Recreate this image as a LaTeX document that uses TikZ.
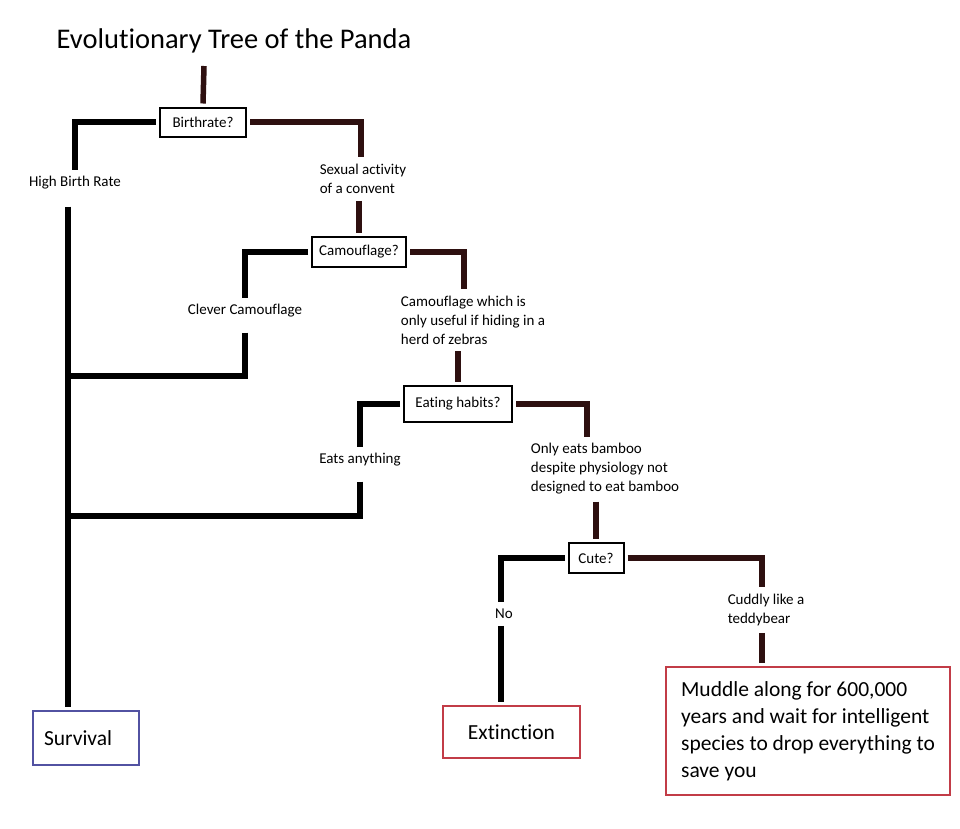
\documentclass[tikz,border=0pt]{standalone}
\usepackage{fontspec}
\setmainfont{Carlito}[Ligatures=CommonOff]
\definecolor{stemred}{HTML}{2E1010}
\definecolor{survblue}{HTML}{5252A2}
\definecolor{endred}{HTML}{C23C47}
\tikzset{
  lbranch/.style={line width=5.5pt,black},
  rbranch/.style={line width=5.5pt,stemred},
  qbox/.style={draw,line width=2pt,inner xsep=6pt,minimum height=29pt,outer sep=4pt,font=\fontsize{15}{18}\selectfont},
  lab/.style={inner sep=5pt,outer sep=2pt,font=\fontsize{15}{19}\selectfont},
  endbox/.style={draw,line width=2.5pt,outer sep=4pt,font=\fontsize{21.5}{27}\selectfont}
}
\begin{document}
\begin{tikzpicture}[x=1pt,y=-1pt]
                \useasboundingbox (0,0) rectangle (960,828);
                \node (title) at (234,41) {\fontsize{28.5}{32}\selectfont Evolutionary Tree of the Panda};
                \coordinate (root) at (204,66);
                \node[qbox,minimum width=86pt] (birth) at (203,122) {Birthrate?};
                \node[lab] (high) at (75,183) {High Birth Rate};
                \node[lab,align=left] (sex) at (363,179) {Sexual activity\\of a convent};
                \node[qbox,minimum width=94pt,minimum height=30pt] (camo) at (359,252) {Camouflage?};
                \node[lab] (clever) at (245,311) {Clever Camouflage};
                \node[lab,align=left] (zeb) at (473,320) {Camouflage which is\\only useful if hiding in a\\herd of zebras};
                \node[qbox,minimum width=108pt,minimum height=36pt] (eat) at (458,404) {Eating habits?};
                \node[lab] (eats) at (360,460) {Eats anything};
                \node[lab,align=left] (bam) at (605,469) {Only eats bamboo\\despite physiology not\\designed to eat bamboo};
                \node[qbox,minimum width=55pt,minimum height=30pt] (cute) at (596,558) {Cute?};
                \node[lab] (no) at (504,614) {No};
                \node[lab,align=left] (cud) at (766,610) {Cuddly like a\\teddybear};
                \node[endbox,draw=survblue,anchor=west,align=left,text width=84pt,inner xsep=11pt,minimum height=54pt] (surv) at (29,738) {Survival};
                \node[endbox,draw=endred,minimum width=137pt,minimum height=52pt] (ext) at (511.5,732) {Extinction};
                \node[endbox,draw=endred,align=left,minimum width=284pt,minimum height=128pt] (mud) at (808,731)
                    {Muddle along for 600,000\\years and wait for intelligent\\species to drop everything to\\save you};
                \coordinate (j1) at (68,376);
                \coordinate (j2) at (68,516);
                \draw[rbranch] (root) -- (birth.north);
                \draw[lbranch] (birth.west) -| (high.north);
                \draw[rbranch] (birth.east) -| ([xshift=-2pt]sex.north);
                \draw[lbranch] ([yshift=-10pt]high.south -| j1) -- (surv.north -| j1);
                \draw[rbranch] (camo.north |- sex.south) -- (camo.north);
                \draw[lbranch] (camo.west) -| (clever.north);
                \draw[rbranch] (camo.east) -| ([xshift=6pt]eat.north |- zeb.north);
                \draw[lbranch] ([yshift=-8pt]clever.south) |- (j1);
                \draw[rbranch] (eat.north |- zeb.south) -- (eat.north);
                \draw[lbranch] (eat.west) -| (eats.north);
                \draw[rbranch] (eat.east) -| ([xshift=-9pt]cute.north |- bam.north);
                \draw[lbranch] ([yshift=-8pt]eats.south) |- (j2);
                \draw[rbranch] (cute.north |- bam.south) -- (cute.north);
                \draw[lbranch] (cute.west) -| ([xshift=-3pt]no.north);
                \draw[rbranch] (cute.east) -| ([xshift=-4pt]cud.north);
                \draw[lbranch] ([xshift=-3pt]no.south) -- ([xshift=-3pt]no.south |- ext.north);
                \draw[rbranch] ([xshift=-4pt]cud.south) -- ([xshift=-4pt]cud.south |- mud.north);
            \end{tikzpicture}
\end{document}
